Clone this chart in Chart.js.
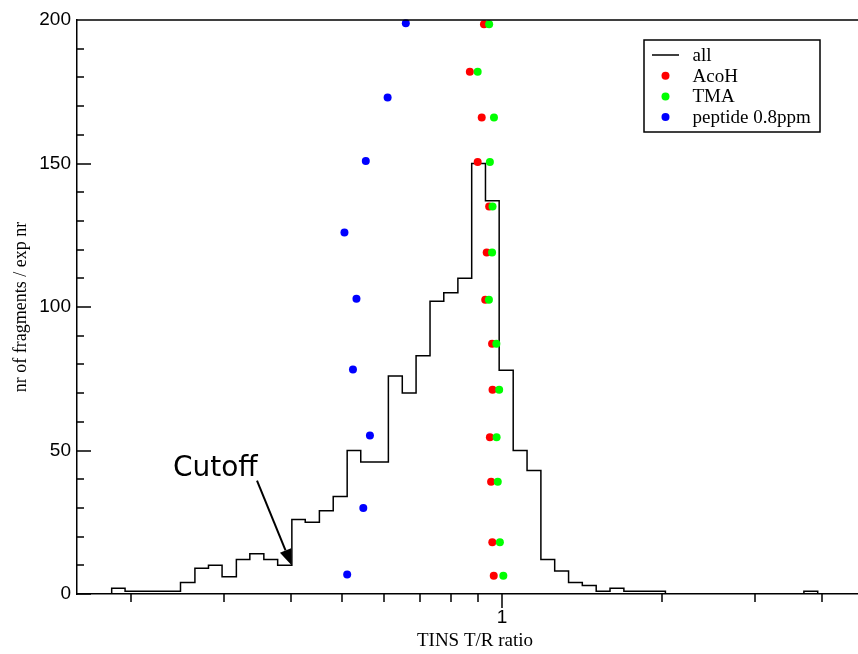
<!DOCTYPE html>
<html>
<head>
<meta charset="utf-8">
<script src="https://cdn.jsdelivr.net/npm/chart.js@4.4.1/dist/chart.umd.min.js"></script>
<style>
  html, body { margin: 0; padding: 0; background: #fff; overflow: hidden; }
  #wrap { position: absolute; left: 0; top: 0; width: 900px; height: 654px; }
</style>
</head>
<body>
<div id="wrap"><canvas id="chart" width="900" height="654"></canvas></div>
<script>
// histogram "all": left edges of the log-spaced bins (last value closes the last bin) and counts
var binEdges = [0.184, 0.195, 0.207, 0.220, 0.234, 0.248, 0.264, 0.280, 0.297, 0.316,
  0.335, 0.356, 0.378, 0.402, 0.426, 0.453, 0.481, 0.511, 0.542, 0.576,
  0.611, 0.649, 0.689, 0.732, 0.777, 0.826, 0.877, 0.931, 0.988, 1.050,
  1.115, 1.184, 1.257, 1.335, 1.417, 1.505, 1.598, 1.697, 1.802, 1.913,
  2.032, 2.158, 2.291, 2.433, 2.584, 2.744, 2.914, 3.094, 3.286, 3.489,
  3.705, 3.934];
var binCounts = [2, 1, 1, 1, 1, 4, 9, 10, 6, 12,
  14, 12, 10, 26, 25, 29, 34, 50, 46, 46,
  76, 70, 83, 102, 105, 110, 150, 137, 78, 50,
  43, 12, 8, 4, 3, 1, 2, 1, 1, 1,
  0, 0, 0, 0, 0, 0, 0, 0, 0, 0,
  1];

// AcoH
var acohX = [0.925, 0.870, 0.916, 0.900, 0.946, 0.936, 0.930, 0.958, 0.960, 0.949, 0.954, 0.959, 0.965];
var acohY = [198.5, 182.0, 166.0, 150.5, 135.0, 119.0, 102.5, 87.2, 71.2, 54.6, 39.1, 18.0, 6.4];
// TMA
var tmaX = [0.946, 0.900, 0.966, 0.949, 0.960, 0.958, 0.945, 0.976, 0.988, 0.977, 0.982, 0.991, 1.006];
var tmaY = [198.5, 182.0, 166.0, 150.5, 135.0, 119.0, 102.5, 87.2, 71.2, 54.6, 39.1, 18.0, 6.4];
// peptide 0.8ppm
var pepX = [0.659, 0.609, 0.554, 0.505, 0.532, 0.524, 0.564, 0.548, 0.511];
var pepY = [198.9, 173.0, 150.9, 126.0, 102.9, 78.2, 55.2, 30.0, 6.8];

var xRange = [0.1583, 5];
var yRange = [0, 200];
var xTicks = [1];
var xMinorTicks = [0.2, 0.3, 0.4, 0.5, 0.6, 0.7, 0.8, 0.9, 2, 3, 4];
var yTicks = [0, 50, 100, 150, 200];
var yMinorTicks = [10, 20, 30, 40, 60, 70, 80, 90, 110, 120, 130, 140, 160, 170, 180, 190];

// "Cutoff" note, in data units
var cutoffNote = { text: 'Cutoff', x: 0.240, y: 41, fromX: 0.3456, fromY: 39.5, toX: 0.4015, toY: 10 };

function pairs(xs, ys) {
  return xs.map(function(x, i) { return { x: x, y: ys[i] }; });
}

var histData = [{ x: xRange[0], y: 0 }];
binCounts.forEach(function(c, i) { histData.push({ x: binEdges[i], y: c }); });
histData.push({ x: binEdges[binEdges.length - 1], y: 0 });
histData.push({ x: xRange[1], y: 0 });

var serif = "'Liberation Serif', 'Times New Roman', serif";
var sans = "'Liberation Sans', Arial, sans-serif";

var axisDecor = {
  id: 'axisDecor',
  afterDraw: function(chart) {
    var ctx = chart.ctx, a = chart.chartArea, xs = chart.scales.x, ys = chart.scales.y;
    ctx.save();
    ctx.strokeStyle = '#000';
    ctx.lineWidth = 1.5;
    ctx.beginPath();
    ctx.moveTo(a.left, a.top);
    ctx.lineTo(a.right, a.top);
    yTicks.forEach(function(v) {
      var y = Math.round(ys.getPixelForValue(v));
      ctx.moveTo(a.left, y); ctx.lineTo(a.left + 14, y);
    });
    yMinorTicks.forEach(function(v) {
      var y = Math.round(ys.getPixelForValue(v));
      ctx.moveTo(a.left, y); ctx.lineTo(a.left + 7, y);
    });
    xTicks.forEach(function(v) {
      var x = Math.round(xs.getPixelForValue(v));
      ctx.moveTo(x, a.bottom); ctx.lineTo(x, a.bottom + 14);
    });
    xMinorTicks.forEach(function(v) {
      var x = Math.round(xs.getPixelForValue(v));
      ctx.moveTo(x, a.bottom); ctx.lineTo(x, a.bottom + 8);
    });
    ctx.stroke();

    // cutoff arrow
    var tx = xs.getPixelForValue(cutoffNote.x), ty = ys.getPixelForValue(cutoffNote.y);
    ctx.fillStyle = '#000';
    ctx.font = "28px 'DejaVu Sans', sans-serif";
    ctx.textBaseline = 'alphabetic';
    ctx.textAlign = 'left';
    ctx.fillText(cutoffNote.text, tx, ty);
    var x1 = xs.getPixelForValue(cutoffNote.fromX), y1 = ys.getPixelForValue(cutoffNote.fromY);
    var x2 = xs.getPixelForValue(cutoffNote.toX), y2 = ys.getPixelForValue(cutoffNote.toY);
    var ang = Math.atan2(y2 - y1, x2 - x1), len = 16, hw = 6;
    var bx = x2 - len * Math.cos(ang), by = y2 - len * Math.sin(ang);
    ctx.lineWidth = 2;
    ctx.beginPath();
    ctx.moveTo(x1, y1); ctx.lineTo(bx, by);
    ctx.stroke();
    ctx.beginPath();
    ctx.moveTo(x2, y2);
    ctx.lineTo(bx + hw * Math.sin(ang), by - hw * Math.cos(ang));
    ctx.lineTo(bx - hw * Math.sin(ang), by + hw * Math.cos(ang));
    ctx.closePath();
    ctx.fill();
    ctx.restore();
  }
};

var boxLegend = {
  id: 'boxLegend',
  afterDraw: function(chart) {
    var ctx = chart.ctx, a = chart.chartArea;
    var x0 = a.right - 229, y0 = a.top + 20, w = 176, h = 92;
    ctx.save();
    ctx.fillStyle = '#fff';
    ctx.fillRect(x0, y0, w, h);
    ctx.strokeStyle = '#000';
    ctx.lineWidth = 1.5;
    ctx.strokeRect(x0, y0, w, h);
    ctx.font = '19px ' + serif;
    ctx.textBaseline = 'middle';
    ctx.textAlign = 'left';
    var order = [0, 1, 2, 3];
    order.forEach(function(di, row) {
      var ds = chart.data.datasets[di];
      var cy = y0 + 15 + row * 20.7;
      if (ds.showLine) {
        ctx.strokeStyle = ds.borderColor;
        ctx.lineWidth = 1.5;
        ctx.beginPath();
        ctx.moveTo(x0 + 8, cy); ctx.lineTo(x0 + 35, cy);
        ctx.stroke();
      } else {
        ctx.fillStyle = ds.backgroundColor;
        ctx.beginPath();
        ctx.arc(x0 + 21.5, cy, 4, 0, Math.PI * 2);
        ctx.fill();
      }
      ctx.fillStyle = '#000';
      ctx.fillText(ds.label, x0 + 48.5, cy + 1);
    });
    ctx.restore();
  }
};

new Chart(document.getElementById('chart'), {
  type: 'scatter',
  data: {
    datasets: [{
      label: 'all',
      type: 'line',
      data: histData,
      showLine: true,
      stepped: 'before',
      borderColor: '#000',
      borderWidth: 1.5,
      pointRadius: 0,
      fill: false,
      order: 4
    }, {
      label: 'AcoH',
      data: pairs(acohX, acohY),
      showLine: false,
      backgroundColor: '#ff0000',
      borderWidth: 0,
      pointRadius: 4,
      clip: false,
      order: 3
    }, {
      label: 'TMA',
      data: pairs(tmaX, tmaY),
      showLine: false,
      backgroundColor: '#00ff00',
      borderWidth: 0,
      pointRadius: 4,
      clip: false,
      order: 2
    }, {
      label: 'peptide 0.8ppm',
      data: pairs(pepX, pepY),
      showLine: false,
      backgroundColor: '#0000ff',
      borderWidth: 0,
      pointRadius: 4,
      clip: false,
      order: 1
    }]
  },
  options: {
    responsive: false,
    animation: false,
    layout: { padding: { left: 0, top: 20, right: 27, bottom: 0 } },
    plugins: { legend: { display: false }, tooltip: { enabled: false } },
    scales: {
      x: {
        type: 'logarithmic',
        min: xRange[0],
        max: xRange[1],
        bounds: 'data',
        afterBuildTicks: function(s) { s.ticks = xTicks.map(function(v) { return { value: v }; }); },
        afterFit: function(s) { s.height = 60; },
        ticks: {
          autoSkip: false, maxRotation: 0, padding: 12,
          color: '#000', font: { family: sans, size: 19 },
          callback: function(v) { return String(v); }
        },
        grid: { drawOnChartArea: false, drawTicks: false },
        border: { color: '#000', width: 1.5 },
        title: {
          display: true, text: 'TINS T/R ratio', color: '#000',
          font: { family: serif, size: 19 }, padding: { top: 4, bottom: 2 }
        }
      },
      y: {
        min: yRange[0],
        max: yRange[1],
        afterBuildTicks: function(s) { s.ticks = yTicks.map(function(v) { return { value: v }; }); },
        afterFit: function(s) { s.width = 77; },
        ticks: { padding: 6, color: '#000', font: { family: sans, size: 19 } },
        grid: { drawOnChartArea: false, drawTicks: false },
        border: { color: '#000', width: 1.5 },
        title: {
          display: true, text: 'nr of fragments / exp nr', color: '#000',
          font: { family: serif, size: 18 }, padding: { top: 10, bottom: 0 }
        }
      }
    }
  },
  plugins: [axisDecor, boxLegend]
});
</script>
</body>
</html>
